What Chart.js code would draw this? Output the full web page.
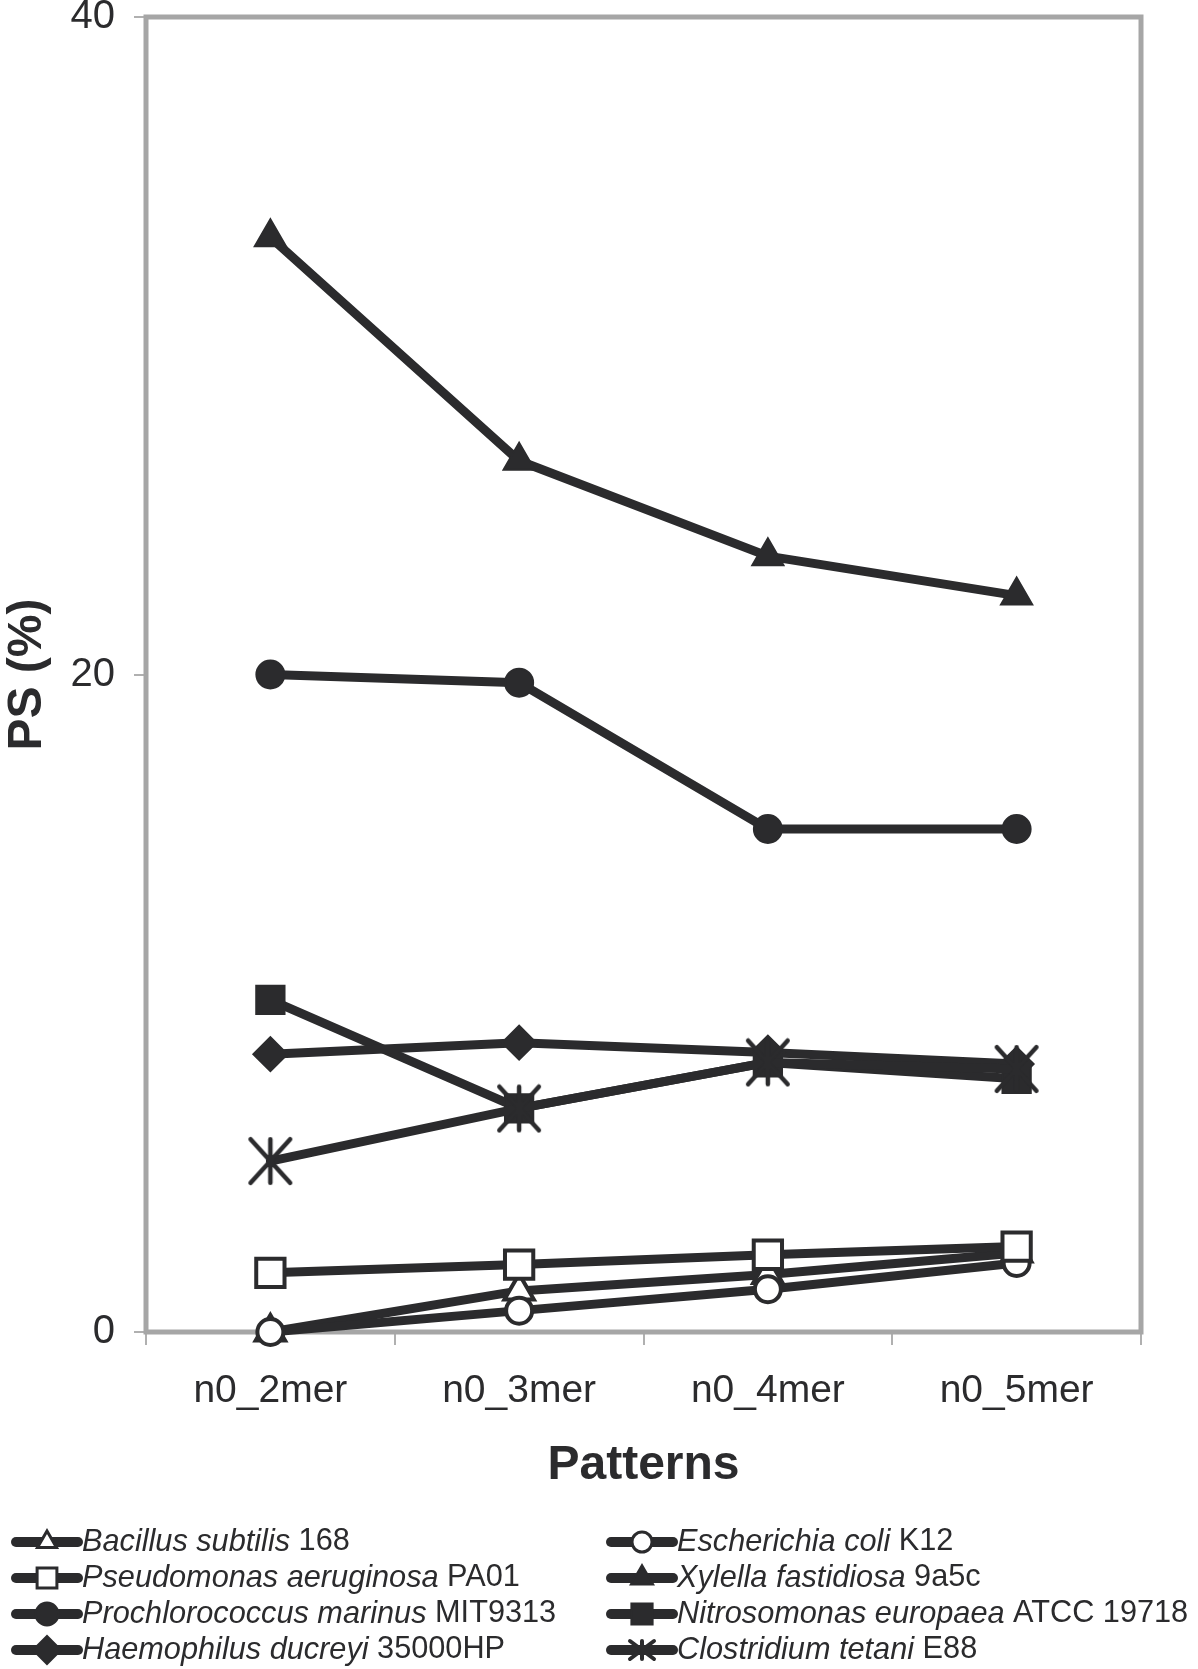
<!DOCTYPE html>
<html>
<head>
<meta charset="utf-8">
<script src="https://cdn.jsdelivr.net/npm/chart.js@4.4.1/dist/chart.umd.min.js"></script>
<style>
  html, body { margin: 0; padding: 0; background: #fff; }
  #wrap { width: 1198px; height: 1669px; position: relative; }
</style>
</head>
<body>
<div id="wrap"><canvas id="psChart"></canvas></div>
<script>
'use strict';

// x categories and y ticks
var patterns = ['n0_2mer', 'n0_3mer', 'n0_4mer', 'n0_5mer'];
var yTicks = [0, 20, 40];

// species, italic part + strain part (legend order, row by row)
var speciesNames = ['Bacillus subtilis', 'Escherichia coli', 'Pseudomonas aeruginosa', 'Xylella fastidiosa',
  'Prochlorococcus marinus', 'Nitrosomonas europaea', 'Haemophilus ducreyi', 'Clostridium tetani'];
var strainNames = ['168', 'K12', 'PA01', '9a5c', 'MIT9313', 'ATCC 19718', '35000HP', 'E88'];

// PS (%) per pattern
var bacillus = [0, 1.25, 1.75, 2.4];
var ecoli = [0, 0.65, 1.3, 2.1];
var pseudomonas = [1.8, 2.05, 2.35, 2.6];
var xylella = [33.3, 26.5, 23.6, 22.4];
var prochlorococcus = [20.0, 19.75, 15.3, 15.3];
var nitrosomonas = [10.1, 6.8, 8.2, 7.7];
var haemophilus = [8.45, 8.8, 8.5, 8.15];
var clostridium = [5.2, 6.8, 8.2, 8.0];

var seriesValues = [bacillus, ecoli, pseudomonas, xylella, prochlorococcus, nitrosomonas, haemophilus, clostridium];

var ink = '#2b2b2d';
var frameGray = '#a6a6a6';
var fontFamily = "'Liberation Sans', Arial, sans-serif";

// Excel style asterisk: X plus a vertical bar
function makeAsterisk(w, h, lw) {
  var c = document.createElement('canvas');
  c.width = w; c.height = h;
  var g = c.getContext('2d');
  var mx = w / 2, my = h / 2, a = my - lw / 2 - 1, b = mx - lw / 2 - 1;
  g.strokeStyle = ink;
  g.lineWidth = lw;
  g.lineCap = 'round';
  g.beginPath();
  g.moveTo(mx, my - a); g.lineTo(mx, my + a);
  g.moveTo(mx - b, my - a); g.lineTo(mx + b, my + a);
  g.moveTo(mx + b, my - a); g.lineTo(mx - b, my + a);
  g.stroke();
  return c;
}
var asteriskBig = makeAsterisk(46, 50, 4.5);
var asteriskSmall = makeAsterisk(30, 24, 4);

var markerStyles = ['triangle', 'circle', 'rect', 'triangle', 'circle', 'rect', 'rectRot', asteriskBig];
var legendStyles = ['triangle', 'circle', 'rect', 'triangle', 'circle', 'rect', 'rectRot', asteriskSmall];
var markerFill = ['#ffffff', '#ffffff', '#ffffff', ink, ink, ink, ink, ink];
var markerRadius = [17, 13, 20, 18, 14, 20, 17, 20];
var legendRadius = [11, 10, 14, 13, 11.5, 15, 14, 10];

var datasets = seriesValues.map(function (vals, i) {
  return {
    label: speciesNames[i] + ' ' + strainNames[i],
    data: vals,
    borderColor: ink,
    borderWidth: 9,
    borderCapStyle: 'round',
    borderJoinStyle: 'round',
    tension: 0,
    fill: false,
    clip: false,
    pointStyle: markerStyles[i],
    pointRadius: markerRadius[i],
    pointBackgroundColor: markerFill[i],
    pointBorderColor: ink,
    pointBorderWidth: markerFill[i] === ink ? 2 : 4,
    order: seriesValues.length - i
  };
});

// grey box round the plot area
var framePlugin = {
  id: 'frame',
  beforeDatasetsDraw: function (chart) {
    var a = chart.chartArea, ctx = chart.ctx;
    ctx.save();
    ctx.strokeStyle = frameGray;
    ctx.lineWidth = 5;
    ctx.strokeRect(a.left, a.top, a.right - a.left, a.bottom - a.top);
    ctx.restore();
  }
};

// two column legend with italic species names
var legendPlugin = {
  id: 'speciesLegend',
  afterDraw: function (chart) {
    var ctx = chart.ctx;
    var colX = [12, 607];
    var rowY = [1542, 1578, 1614, 1650];
    var lineLen = 66;
    ctx.save();
    ctx.textBaseline = 'middle';
    speciesNames.forEach(function (name, i) {
      var x = colX[i % 2], y = rowY[Math.floor(i / 2)];
      ctx.strokeStyle = ink;
      ctx.lineWidth = 10;
      ctx.lineCap = 'round';
      ctx.beginPath();
      ctx.moveTo(x + 4, y);
      ctx.lineTo(x + lineLen, y);
      ctx.stroke();
      ctx.fillStyle = markerFill[i];
      ctx.strokeStyle = ink;
      ctx.lineWidth = markerFill[i] === ink ? 2 : 3;
      Chart.helpers.drawPoint(ctx, {
        pointStyle: legendStyles[i],
        radius: legendRadius[i],
        rotation: 0,
        borderWidth: ctx.lineWidth
      }, x + lineLen / 2 + 2, y);
      ctx.fillStyle = ink;
      ctx.font = 'italic 30.7px ' + fontFamily;
      var tx = x + lineLen + 4;
      ctx.fillText(name, tx, y);
      tx += ctx.measureText(name + ' ').width;
      ctx.font = '30.7px ' + fontFamily;
      ctx.fillText(strainNames[i], tx, y);
    });
    ctx.restore();
  }
};

var ctxEl = document.getElementById('psChart').getContext('2d');
var psChart = new Chart(ctxEl, {
  type: 'line',
  data: { labels: patterns, datasets: datasets },
  options: {
    responsive: true,
    maintainAspectRatio: false,
    animation: false,
    events: [],
    layout: { autoPadding: false, padding: { left: 0, right: 57, top: 17, bottom: 160 } },
    plugins: {
      legend: { display: false },
      tooltip: { enabled: false }
    },
    scales: {
      x: {
        type: 'category',
        offset: true,
        grid: { offset: true, drawOnChartArea: false, drawTicks: true, tickLength: 13, color: '#b0b0b0', lineWidth: 2 },
        border: { display: false },
        ticks: {
          color: ink,
          font: { family: fontFamily, size: 39 },
          padding: 23,
          maxRotation: 0,
          autoSkip: false
        },
        title: {
          display: true,
          text: 'Patterns',
          color: ink,
          font: { family: fontFamily, size: 48, weight: 'bold', lineHeight: 1.2 },
          padding: { top: 0, bottom: 14 }
        },
        afterFit: function (s) { s.height = 177; }
      },
      y: {
        min: yTicks[0],
        max: yTicks[yTicks.length - 1],
        afterBuildTicks: function (s) { s.ticks = yTicks.map(function (v) { return { value: v }; }); },
        grid: { drawOnChartArea: false, drawTicks: true, tickLength: 12, color: '#b0b0b0', lineWidth: 2 },
        border: { display: false },
        ticks: {
          color: ink,
          font: { family: fontFamily, size: 40, lineHeight: 0.8 },
          padding: 19
        },
        title: {
          display: true,
          text: 'PS (%)',
          color: ink,
          font: { family: fontFamily, size: 48, weight: 'bold', lineHeight: 1.1 },
          padding: { top: 1, bottom: 0 }
        },
        afterFit: function (s) {
          s.width = 146;
          s.paddingTop = 0;
          s.paddingBottom = 0;
        }
      }
    }
  },
  plugins: [framePlugin, legendPlugin]
});
</script>
</body>
</html>
